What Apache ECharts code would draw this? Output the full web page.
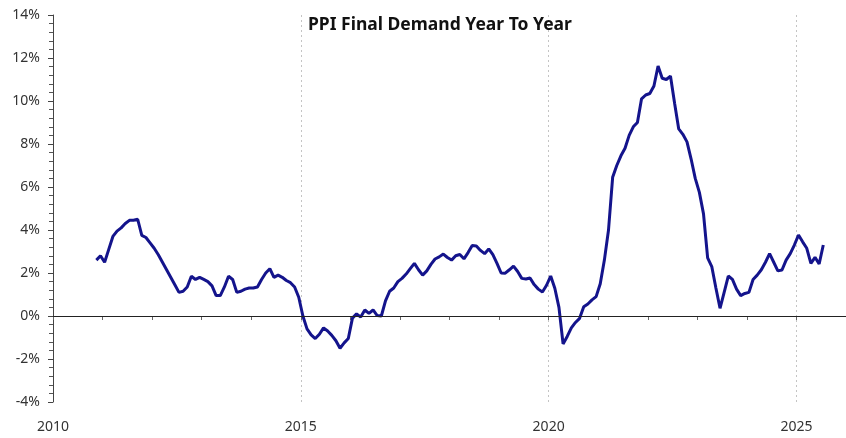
<!DOCTYPE html>
<html>
<head>
<meta charset="utf-8">
<title>PPI Final Demand Year To Year</title>
<script src="https://cdn.jsdelivr.net/npm/echarts@6/dist/echarts.min.js"></script>
<style>
	html, body { margin: 0; padding: 0; background: #fff; }
	#main { width: 846px; height: 438px; }
</style>
</head>
<body>
<div id="main"></div>
<script>
// monthly PPI final demand, % change from a year earlier
var firstYear = 2010;
var firstMonth = 11; // series starts Nov 2010
var y2010 = [2.6, 2.8];
var y2011 = [2.5, 3.1, 3.7, 3.95, 4.1, 4.3, 4.45, 4.45, 4.5, 3.75, 3.65, 3.4];
var y2012 = [3.15, 2.85, 2.5, 2.15, 1.8, 1.45, 1.1, 1.15, 1.35, 1.85, 1.7, 1.8];
var y2013 = [1.7, 1.6, 1.4, 0.95, 0.95, 1.35, 1.85, 1.7, 1.1, 1.15, 1.25, 1.3];
var y2014 = [1.3, 1.35, 1.7, 2.0, 2.2, 1.8, 1.9, 1.8, 1.65, 1.55, 1.35, 0.87];
var y2015 = [0.0, -0.6, -0.88, -1.05, -0.85, -0.55, -0.7, -0.9, -1.15, -1.5, -1.25, -1.05];
var y2016 = [-0.1, 0.1, -0.05, 0.28, 0.12, 0.28, 0.02, 0.0, 0.7, 1.15, 1.3, 1.6];
var y2017 = [1.75, 1.95, 2.2, 2.45, 2.15, 1.9, 2.1, 2.4, 2.65, 2.75, 2.88, 2.72];
var y2018 = [2.6, 2.8, 2.86, 2.66, 2.95, 3.28, 3.26, 3.05, 2.9, 3.12, 2.85, 2.45];
var y2019 = [2.0, 1.99, 2.15, 2.32, 2.07, 1.75, 1.72, 1.77, 1.46, 1.25, 1.12, 1.43];
var y2020 = [1.86, 1.29, 0.4, -1.3, -0.95, -0.55, -0.3, -0.11, 0.43, 0.56, 0.75, 0.9];
var y2021 = [1.5, 2.6, 4.0, 6.45, 7.0, 7.45, 7.8, 8.4, 8.8, 9.0, 10.1, 10.28];
var y2022 = [10.35, 10.7, 11.63, 11.06, 11.0, 11.16, 9.9, 8.7, 8.45, 8.1, 7.3, 6.4];
var y2023 = [5.75, 4.75, 2.7, 2.3, 1.3, 0.36, 1.1, 1.86, 1.7, 1.25, 0.95, 1.05];
var y2024 = [1.1, 1.7, 1.9, 2.15, 2.5, 2.9, 2.5, 2.1, 2.14, 2.6, 2.9, 3.3];
var y2025 = [3.77, 3.45, 3.15, 2.45, 2.73, 2.42, 3.3];

var yearLabels = [2010, 2015, 2020, 2025];
var yearRange = [2010, 2026];
var pctTicks = [-4, -2, 0, 2, 4, 6, 8, 10, 12, 14];

var allValues = [].concat(y2010, y2011, y2012, y2013, y2014, y2015, y2016,
	y2017, y2018, y2019, y2020, y2021, y2022, y2023, y2024, y2025);

// each month sits at the middle of its month on a year scale
var seriesData = allValues.map(function (v, i) {
	var m = (firstMonth - 1) + i;
	return [firstYear + (m + 0.5) / 12, v];
});

var myChart = echarts.init(document.getElementById('main'), null, { renderer: 'canvas' });

var labelFont = 'Noto Sans';
var option = {
	animation: false,
	backgroundColor: '#ffffff',
	title: {
		text: 'PPI Final Demand Year To Year',
		left: 303,
		top: 11,
		textStyle: {
			fontFamily: labelFont,
			fontWeight: 'bold',
			fontSize: 17.5,
			color: '#111'
		}
	},
	grid: {
		left: 53,
		right: 0,
		top: 15,
		bottom: 36,
		outerBoundsMode: 'none'
	},
	xAxis: [{
		// yearly ticks + labels every 5 years
		type: 'value',
		min: yearRange[0],
		max: yearRange[1],
		interval: 1,
		axisLine: { lineStyle: { color: '#666', width: 1 } },
		axisTick: { length: 4, lineStyle: { color: '#666' } },
		axisLabel: {
			margin: 18,
			fontFamily: labelFont,
			fontSize: 14,
			color: '#333',
			formatter: function (v) {
				return yearLabels.indexOf(v) >= 0 ? String(v) : '';
			}
		},
		splitLine: { show: false }
	}, {
		// only used for the dotted 5-year grid lines
		type: 'value',
		position: 'top',
		min: yearRange[0],
		max: yearRange[1],
		interval: 5,
		axisLine: { show: false },
		axisTick: { show: false },
		axisLabel: { show: false },
		splitLine: {
			show: true,
			showMinLine: false,
			showMaxLine: false,
			lineStyle: { type: [2, 3], color: '#c4c4c4', width: 1 }
		}
	}],
	yAxis: {
		type: 'value',
		min: pctTicks[0],
		max: pctTicks[pctTicks.length - 1],
		interval: 2,
		axisLine: { show: true, lineStyle: { color: '#444', width: 1 } },
		axisTick: { show: true, length: 5, lineStyle: { color: '#444' } },
		minorTick: { show: true, splitNumber: 5, length: 4, lineStyle: { color: '#555' } },
		axisLabel: {
			margin: 13,
			fontFamily: labelFont,
			fontSize: 14,
			color: '#333',
			formatter: '{value}%'
		},
		splitLine: { show: false }
	},
	series: [{
		name: 'PPI Final Demand YoY',
		type: 'line',
		xAxisIndex: 0,
		data: seriesData,
		showSymbol: false,
		symbol: 'none',
		lineStyle: { color: '#14148c', width: 3 },
		markLine: {
			silent: true,
			symbol: 'none',
			label: { show: false },
			lineStyle: { color: '#222', width: 1, type: 'solid' },
			data: [{ yAxis: 0 }]
		}
	}]
};

myChart.setOption(option);
</script>
</body>
</html>
